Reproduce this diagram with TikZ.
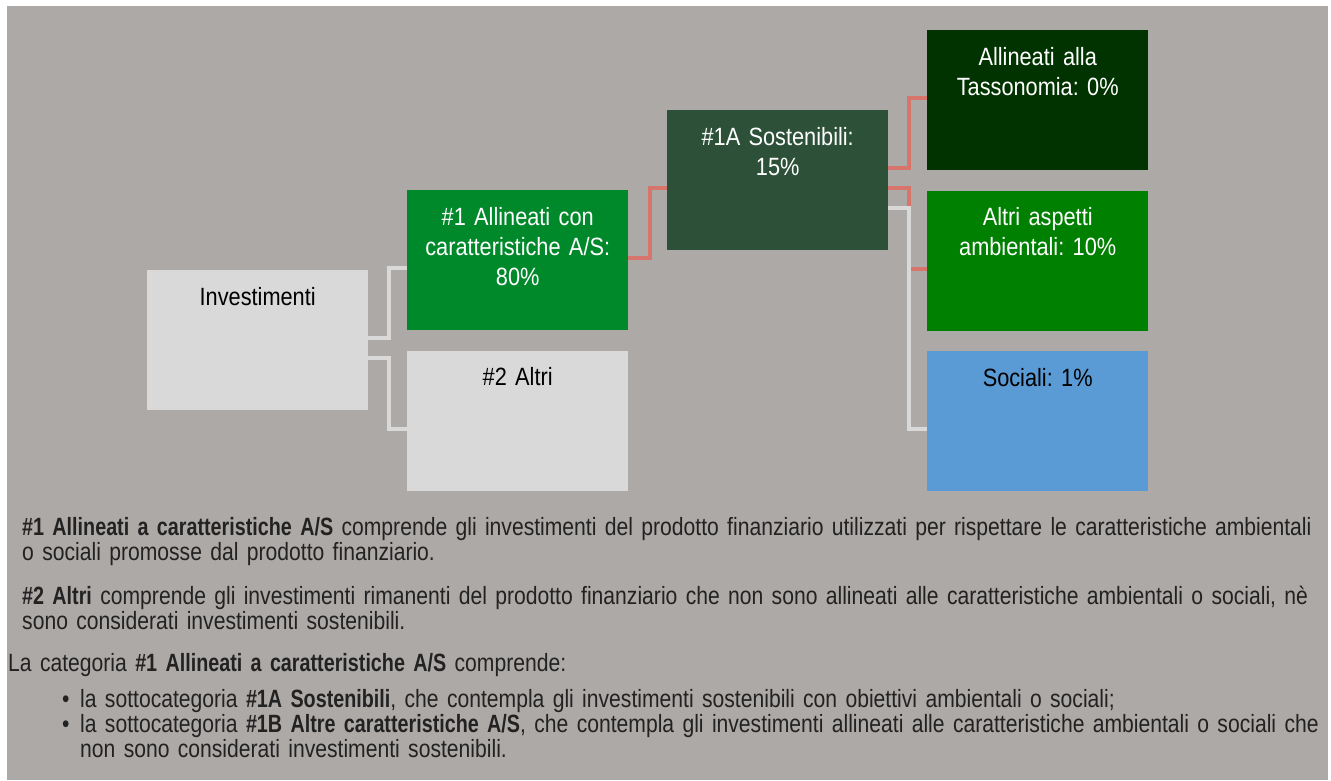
\documentclass[tikz,border=0pt]{standalone}
\usepackage{fontspec}
\setmainfont[FakeStretch=0.87]{Liberation Sans}
\newfontfamily\notefont[FakeStretch=0.845, BoldFeatures={FakeStretch=0.79}]{Liberation Sans}
\usetikzlibrary{positioning}
\definecolor{bggray}{HTML}{ADA9A7}
\definecolor{lightbox}{HTML}{D9D9D9}
\definecolor{green1}{HTML}{00892B}
\definecolor{green1a}{HTML}{2C5138}
\definecolor{greentax}{HTML}{003300}
\definecolor{greenamb}{HTML}{008000}
\definecolor{bluesoc}{HTML}{5B9BD5}
\definecolor{redline}{HTML}{D7756D}
\definecolor{notetext}{HTML}{222222}

\begin{document}
\frenchspacing
\begin{tikzpicture}[x=1pt, y=-1pt,
  every node/.style = {font=\fontsize{25}{30}\selectfont},
  box/.style = {rectangle, anchor=north west, inner xsep=6pt, inner ysep=0pt,
    text width=209pt, text height=35pt, text depth=105pt, align=center},
  note/.style = {anchor=base west, inner sep=0pt, text width=1320pt,
    align=left, text=notetext, font=\notefont\fontsize{25}{25}\selectfont},
  redlink/.style = {draw=redline, line width=4pt},
  graylink/.style = {draw=lightbox, line width=4pt}
  ]
  \useasboundingbox (0,0) rectangle (1331,780);
  \fill[white] (0,0) rectangle (1331,780);
  \fill[bggray] (7,6) rectangle (1328,780);

  % boxes
  \node[box, fill=lightbox] (inv) at (147,270) {Investimenti};
  \node[box, fill=green1, text=white] (a1) at (407,190)
    {\#1 Allineati con\\caratteristiche A/S:\\80\%};
  \node[box, fill=lightbox, below=20pt of a1] (alt) {\#2 Altri};
  \node[box, fill=green1a, text=white] (s1a) at (667,110)
    {\#1A Sostenibili:\\15\%};
  \node[box, fill=greentax, text=white] (tax) at (927,30)
    {Allineati alla\\Tassonomia: 0\%};
  \node[box, fill=greenamb, text=white, below=20pt of tax] (amb)
    {Altri aspetti\\ambientali: 10\%};
  \node[box, fill=bluesoc, below=20pt of amb] (soc) {Sociali: 1\%};

  % connectors
  \draw[graylink] ([yshift=2pt]inv.east) -- ++(21,0) |- ([yshift=-8pt]a1.west);
  \draw[graylink] ([yshift=-18pt]inv.east) -- ++(21,0) |- ([yshift=-8pt]alt.west);
  \draw[redlink] ([yshift=2pt]a1.east) -- ++(22,0) |- ([yshift=-8pt]s1a.west);
  \draw[redlink] ([yshift=12pt]s1a.east) -- ++(21,0) |- ([yshift=2pt]tax.west);
  \draw[redlink] ([yshift=-8pt]s1a.east) -- ++(21,0) |- ([yshift=-8pt]amb.west);
  \draw[graylink] ([yshift=-28pt]s1a.east) -- ++(21,0) |- ([yshift=-8pt]soc.west);

  % notes
  \node[note] (n1) at (22,535) {\textbf{\#1 Allineati a caratteristiche A/S} comprende gli investimenti del prodotto finanziario utilizzati per rispettare le caratteristiche ambientali\\o sociali promosse dal prodotto finanziario.};
  \node[note] (n2) at (22,604) {\textbf{\#2 Altri} comprende gli investimenti rimanenti del prodotto finanziario che non sono allineati alle caratteristiche ambientali o sociali, nè\\sono considerati investimenti sostenibili.};
  \node[note] (n3) at (8,671) {La categoria \textbf{\#1 Allineati a caratteristiche A/S} comprende:};
  \node[note] (n4) at (62,707) {\makebox[18pt][l]{•}la sottocategoria \textbf{\#1A Sostenibili}, che contempla gli investimenti sostenibili con obiettivi ambientali o sociali;\\\makebox[18pt][l]{•}la sottocategoria \textbf{\#1B Altre caratteristiche A/S}, che contempla gli investimenti allineati alle caratteristiche ambientali o sociali che\\\hspace*{18pt}non sono considerati investimenti sostenibili.};
\end{tikzpicture}
\end{document}
